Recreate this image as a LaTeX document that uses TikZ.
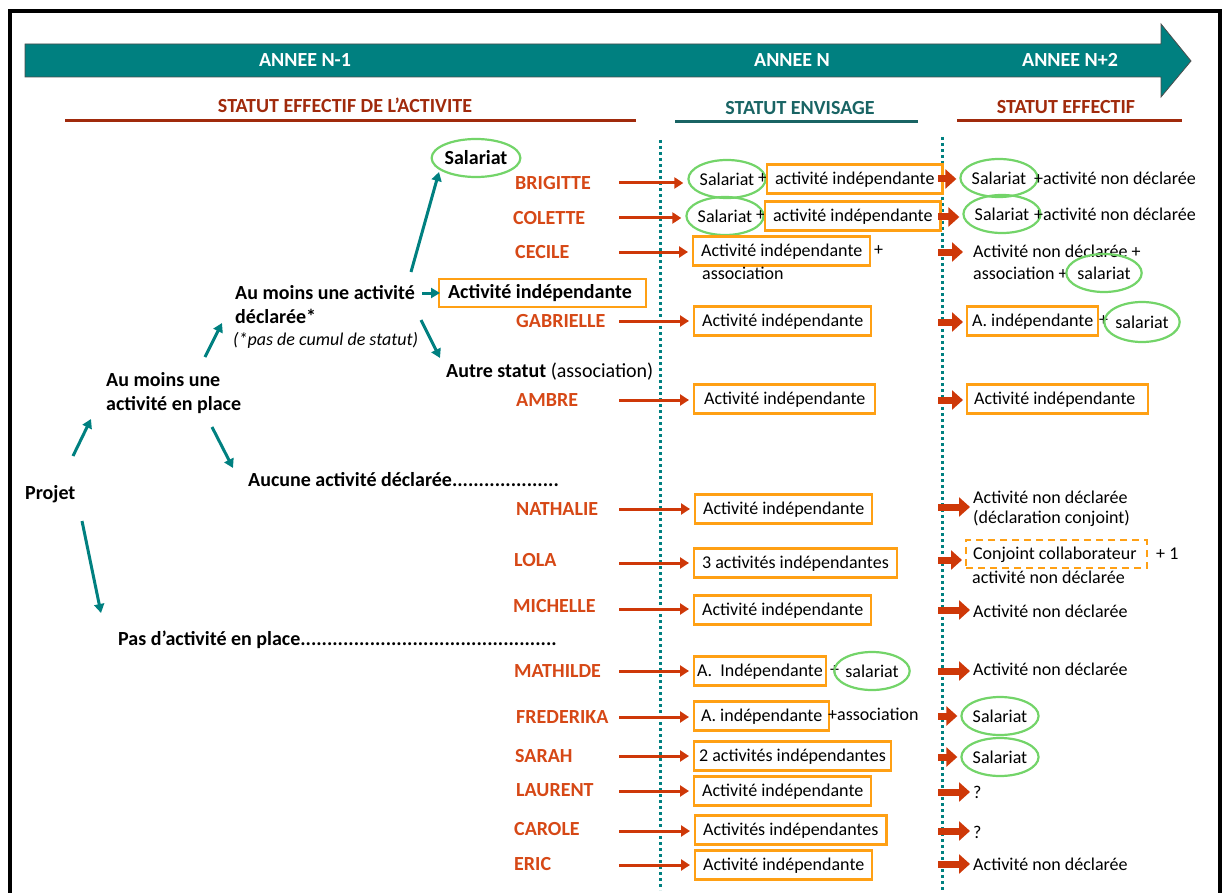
\documentclass[tikz,border=0pt]{standalone}
\usepackage{fontspec}
\setmainfont{Carlito}
\usetikzlibrary{shapes.geometric,arrows.meta}
\definecolor{tealc}{RGB}{0,128,128}
\definecolor{tealdark}{RGB}{25,100,100}
\definecolor{darkredc}{RGB}{160,42,12}
\definecolor{namec}{RGB}{214,72,22}
\definecolor{redc}{RGB}{206,56,8}
\definecolor{orangec}{RGB}{255,160,20}
\definecolor{greenc}{RGB}{115,212,105}
\tikzset{
 bt/.style={font=\fontsize{20}{24}\selectfont\bfseries, inner sep=0pt, anchor=west, align=left},
 rt/.style={font=\fontsize{18}{21}\selectfont, inner sep=0pt, anchor=west, align=left},
 nm/.style={bt, text=namec},
 obox/.style={rt, draw=orangec, line width=2.2pt, inner xsep=8pt, inner ysep=0pt, minimum height=29pt, text height=14pt, text depth=3pt},
 gell/.style={ellipse, draw=greenc, line width=2.2pt, inner sep=0pt, minimum width=66pt, minimum height=38pt, font=\fontsize{18}{21}\selectfont},
 rarr/.style={draw=redc, line width=3pt, -{Triangle[length=9pt,width=11pt]}, shorten >=4pt},
 barr/.style={draw=redc, line width=7pt, -{Triangle[length=11pt,width=19pt]}, shorten >=3pt},
 tarr/.style={draw=tealc, line width=3pt, -{Triangle[length=9pt,width=10pt]}},
 hd/.style={bt, anchor=center},
}
\begin{document}
\begin{tikzpicture}[x=1pt,y=-1pt]
\useasboundingbox (0,0) rectangle (1222,893);
% frame
\draw[line width=4pt] (10,893) -- (10,11) -- (1220,11) -- (1220,893);
% banner
\draw[fill=tealc, draw=black!70, line width=0.8pt] (25,44) -- (1161,44) -- (1161,24) -- (1191,61) -- (1161,97) -- (1161,77) -- (25,77) -- cycle;
\node[hd, text=white] (y1) at (305,60) {ANNEE N-1};
\node[hd, text=white] (y2) at (792,60) {ANNEE N};
\node[hd, text=white] (y3) at (1070,60) {ANNEE N+2};
% headings
\node[hd, text=darkredc] (h1) at (345,105) {STATUT EFFECTIF DE L’ACTIVITE};
\draw[darkredc, line width=3pt] (65,121) -- (636,121);
\node[hd, text=tealdark] (h2) at (800,108) {STATUT ENVISAGE};
\draw[tealdark, line width=3pt] (675,122) -- (918,122);
\node[hd, text=darkredc] (h3) at (1066,107) {STATUT EFFECTIF};
\draw[darkredc, line width=3pt] (957,121) -- (1182,121);
% dotted separators
\draw[tealc, line width=3pt, dash pattern=on 3pt off 3pt] (660,140) -- (660,890);
\draw[tealc, line width=3pt, dash pattern=on 3pt off 3pt] (942,137) -- (942,890);
% left tree
\node[bt] (projet) at (25,494) {Projet};
\node[bt] (place) at (106,393) {Au moins une\\activité en place};
\node[bt] (decl) at (235,305) {Au moins une activité\\déclarée*};
\node[rt, font=\fontsize{18}{21}\selectfont\itshape] (cumul) at (233,340) {(*pas de cumul de statut)};
\node[gell, minimum width=80pt, font=\fontsize{20}{24}\selectfont\bfseries] (saltop) at (476,158) {Salariat};
\node[obox, font=\fontsize{20}{24}\selectfont\bfseries, inner xsep=9pt, minimum height=28pt, text height=15pt, text depth=4pt] (indtop) at (438,293) {Activité indépendante\hspace{5pt}};
\node[bt] (autre) at (446,372) {Autre statut \mdseries(association)};
\node[bt] (aucune) at (248,480) {Aucune activité déclarée....................};
\node[bt] (pas) at (118,640) {Pas d’activité en place................................................};
\coordinate (t1a) at (73,456); \coordinate (t1b) at (91,419);
\coordinate (t2a) at (212,427); \coordinate (t2b) at (233,468);
\coordinate (t3a) at (82,521); \coordinate (t3b) at (101,613);
\coordinate (t4a) at (205,357); \coordinate (t4b) at (222,323);
\coordinate (t5a) at (411,272); \coordinate (t5b) at (439,172);
\coordinate (t6a) at (422,293);
\coordinate (t7a) at (421,320); \coordinate (t7b) at (440,358);
\draw[tarr] (t1a) -- (t1b);
\draw[tarr] (t2a) -- (t2b);
\draw[tarr] (t3a) -- (t3b);
\draw[tarr] (t4a) -- (t4b);
\draw[tarr] (t5a) -- (t5b);
\draw[tarr, shorten >=-2pt] (t6a) -- (indtop.west);
\draw[tarr] (t7a) -- (t7b);
% ---------- rows ----------
% BRIGITTE
\node[nm] (n1) at (515,183) {BRIGITTE};
\coordinate (r1) at (619,183);
\node[gell] (e1) at (727,179) {Salariat};
\node[rt] (p1) at (758,179) {+};
\node[obox] (b1) at (766,179) {activité indépendante};
\draw[rarr] (r1) -- (r1 -| e1.west);
\coordinate (q1) at (938,179);
\node[gell] (f1) at (999,178) {Salariat};
\node[rt] (g1) at (1034,178) {+activité non déclarée};
\draw[barr] (q1) -- (q1 -| f1.west);
% COLETTE
\node[nm] (n2) at (513,218) {COLETTE};
\coordinate (r2) at (619,218);
\node[gell] (e2) at (725,216) {Salariat};
\node[rt] (p2) at (756,216) {+};
\node[obox] (b2) at (764,216) {activité indépendante};
\draw[rarr] (r2) -- (r2 -| e2.west);
\coordinate (q2) at (938,217);
\node[gell] (f2) at (1002,214) {Salariat};
\node[rt] (g2) at (1034,214) {+activité non déclarée};
\draw[barr] (q2) -- (q2 -| f2.west);
% CECILE
\node[nm] (n3) at (515,252) {CECILE};
\coordinate (r3) at (619,252);
\node[obox] (b3) at (692,251) {Activité indépendante};
\node[rt] (p3) at (874,251) {+};
\node[rt] (a3) at (702,273) {association};
\draw[rarr] (r3) -- (r3 -| b3.west);
\coordinate (q3) at (938,252);
\node[rt] (g3) at (973,251) {Activité non déclarée +};
\node[rt] (h3b) at (973,273) {association +};
\node[gell] (f3) at (1104,273) {salariat};
\coordinate (q3e) at (966,252);
\draw[barr] (q3) -- (q3e);
% GABRIELLE
\node[nm] (n4) at (516,321) {GABRIELLE};
\coordinate (r4) at (619,321);
\node[obox] (b4) at (693,321) {Activité indépendante};
\draw[rarr] (r4) -- (r4 -| b4.west);
\coordinate (q4) at (938,322);
\node[obox, inner xsep=5pt] (c4) at (966,321) {A. indépendante};
\node[rt] (p4) at (1099,321) {+};
\node[gell, minimum height=40pt] (f4) at (1142,322) {salariat};
\draw[barr] (q4) -- (q4 -| c4.west);
% AMBRE
\node[nm] (n5) at (516,400) {AMBRE};
\coordinate (r5) at (619,400);
\node[obox, inner xsep=10pt] (b5) at (693,399) {Activité indépendante};
\draw[rarr] (r5) -- (r5 -| b5.west);
\coordinate (q5) at (938,400);
\node[obox, inner xsep=7pt] (c5) at (966,399) {Activité indépendante\hspace{6pt}};
\draw[barr] (q5) -- (q5 -| c5.west);
% NATHALIE
\node[nm] (n6) at (516,509) {NATHALIE};
\coordinate (r6) at (619,509);
\node[obox] (b6) at (694,509) {Activité indépendante};
\draw[rarr] (r6) -- (r6 -| b6.west);
\coordinate (q6) at (938,507);
\node[rt, font=\fontsize{18}{20}\selectfont] (g6) at (973,509) {Activité non déclarée\\(déclaration conjoint)};
\draw[barr] (q6) -- (q6 -| g6.west);
% LOLA
\node[nm] (n7) at (514,560) {LOLA};
\coordinate (r7) at (619,563);
\node[obox] (b7) at (693,563) {3 activités indépendantes};
\draw[rarr] (r7) -- (r7 -| b7.west);
\coordinate (q7) at (938,560);
\node[obox, dashed, dash pattern=on 7pt off 5pt, minimum height=28pt, inner xsep=7pt] (c7) at (965,554) {Conjoint collaborateur\hspace{3pt}};
\node[rt] (p7) at (1156,554) {+ 1};
\node[rt] (a7) at (972,577) {activité non déclarée};
\draw[barr] (q7) -- (q7 -| c7.west);
% MICHELLE
\node[nm] (n8) at (513,606) {MICHELLE};
\coordinate (r8) at (619,609);
\node[obox] (b8) at (693,610) {Activité indépendante};
\draw[rarr] (r8) -- (r8 -| b8.west);
\coordinate (q8) at (938,610);
\node[rt] (g8) at (973,611) {Activité non déclarée};
\draw[barr] (q8) -- (q8 -| g8.west);
% MATHILDE
\node[nm] (n9) at (514,671) {MATHILDE};
\coordinate (r9) at (619,671);
\node[obox, inner xsep=3pt] (b9) at (693,671) {A.\ \ Indépendante};
\node[rt] (p9) at (830,671) {+};
\node[gell] (e9) at (872,671) {salariat};
\draw[rarr] (r9) -- (r9 -| b9.west);
\coordinate (q9) at (938,671);
\node[rt] (g9) at (973,669) {Activité non déclarée};
\draw[barr] (q9) -- (q9 -| g9.west);
% FREDERIKA
\node[nm] (n10) at (516,717) {FREDERIKA};
\coordinate (r10) at (619,717);
\node[obox, inner xsep=7pt] (b10) at (693,716) {A. indépendante};
\node[rt] (p10) at (828,714) {+association};
\draw[rarr] (r10) -- (r10 -| b10.west);
\coordinate (q10) at (938,716);
\node[gell] (f10) at (1000,716) {Salariat};
\draw[barr] (q10) -- (q10 -| f10.west);
% SARAH
\node[nm] (n11) at (515,756) {SARAH};
\coordinate (r11) at (619,756);
\node[obox, inner xsep=5pt] (b11) at (693,756) {2 activités indépendantes};
\draw[rarr] (r11) -- (r11 -| b11.west);
\coordinate (q11) at (938,757);
\node[gell] (f11) at (1000,757) {Salariat};
\draw[barr] (q11) -- (q11 -| f11.west);
% LAURENT
\node[nm] (n12) at (516,790) {LAURENT};
\coordinate (r12) at (619,791);
\node[obox] (b12) at (693,791) {Activité indépendante};
\draw[rarr] (r12) -- (r12 -| b12.west);
\coordinate (q12) at (938,792);
\node[rt] (g12) at (973,792) {?};
\draw[barr] (q12) -- (q12 -| g12.west);
% CAROLE
\node[nm] (n13) at (514,829) {CAROLE};
\coordinate (r13) at (619,831);
\node[obox] (b13) at (694,830) {Activités indépendantes};
\draw[rarr] (r13) -- (r13 -| b13.west);
\coordinate (q13) at (938,831);
\node[rt] (g13) at (973,832) {?};
\draw[barr] (q13) -- (q13 -| g13.west);
% ERIC
\node[nm] (n14) at (514,864) {ERIC};
\coordinate (r14) at (619,865);
\node[obox] (b14) at (694,865) {Activité indépendante};
\draw[rarr] (r14) -- (r14 -| b14.west);
\coordinate (q14) at (938,864);
\node[rt] (g14) at (973,864) {Activité non déclarée};
\draw[barr] (q14) -- (q14 -| g14.west);
\end{tikzpicture}
\end{document}
